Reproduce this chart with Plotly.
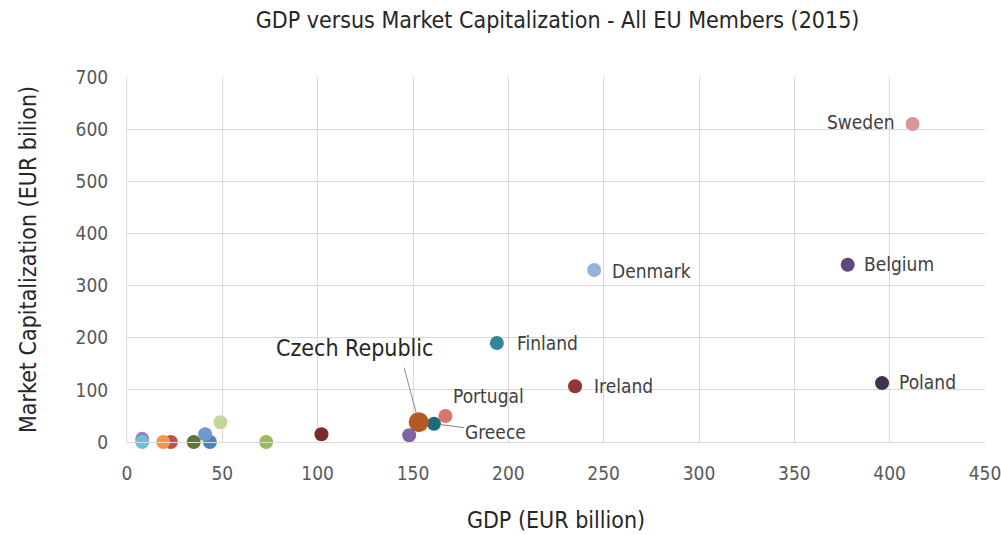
import plotly.graph_objects as go

countries = ["Sweden", "Denmark", "Belgium", "Poland", "Finland", "Ireland",
             "Portugal", "Greece", "Czech Republic", "Hungary", "Slovakia",
             "Luxembourg", "Croatia", "Bulgaria", "Lithuania", "Slovenia",
             "Latvia", "Estonia", "Cyprus", "Malta"]
gdp = [412, 245, 378, 396, 194, 235, 167, 161, 153, 148, 102, 73, 49, 43.5, 41, 35,
       23, 19, 8, 8]
mcap = [610, 330, 340, 113, 190, 107, 50, 35, 38, 13, 15, 0, 38, 0, 15, 0,
        0, 0, 6, 0]
labeled = ["Sweden", "Denmark", "Belgium", "Poland", "Finland", "Ireland",
           "Portugal", "Greece", "Czech Republic"]

colors = ["#DA9694", "#95B3D7", "#60497A", "#403151", "#31859C", "#963634",
          "#DA7471", "#1D6A7C", "#B65A24", "#8064A2", "#772C2A", "#9BBB59",
          "#C4D79B", "#4F81BD", "#6F99CF", "#5F7530", "#C0504D", "#F79646",
          "#9A7FBF", "#6BC0D8"]
sizes = [14 if c != "Czech Republic" else 20 for c in countries]

fig = go.Figure()
fig.add_trace(go.Scatter(
    x=gdp, y=mcap, mode="markers", text=countries,
    marker=dict(color=colors, size=sizes, opacity=1, line=dict(width=0)),
    hoverinfo="text+x+y", showlegend=False, cliponaxis=False))

FONT = "DejaVu Sans Condensed, Liberation Sans Narrow, Roboto, sans-serif"
label_style = {
    "Sweden": dict(xanchor="right", xshift=-16, yshift=2),
    "Denmark": dict(xanchor="left", xshift=16, yshift=-1),
    "Belgium": dict(xanchor="left", xshift=14, yshift=1),
    "Poland": dict(xanchor="left", xshift=15, yshift=1),
    "Finland": dict(xanchor="left", xshift=18, yshift=0),
    "Ireland": dict(xanchor="left", xshift=17, yshift=0),
    "Portugal": dict(xanchor="center", xshift=43, yshift=20),
}
for c, x, y in zip(countries, gdp, mcap):
    if c not in labeled:
        continue
    if c in label_style:
        s = label_style[c]
        fig.add_annotation(x=x, y=y, text=c, showarrow=False,
                           xanchor=s["xanchor"], yanchor="middle",
                           xshift=s["xshift"], yshift=s["yshift"],
                           font=dict(family=FONT, size=19, color="#404040"))
    elif c == "Greece":
        fig.add_annotation(x=x, y=y, text=c, showarrow=True, arrowhead=0,
                           arrowwidth=1, arrowcolor="#808080", ax=62, ay=8,
                           standoff=6, xanchor="center",
                           font=dict(family=FONT, size=19, color="#404040"))
    elif c == "Czech Republic":
        fig.add_annotation(x=x, y=y, text=c, showarrow=False,
                           xshift=-64, yshift=74,
                           font=dict(family=FONT, size=23, color="#262626"))
        fig.add_annotation(x=x, y=y, text="", showarrow=True, arrowhead=0,
                           arrowwidth=1, arrowcolor="#8C8C8C", ax=-15, ay=-56,
                           standoff=9)

fig.update_layout(
    width=1001, height=535,
    margin=dict(l=127, r=16, t=77, b=93, autoexpand=False),
    paper_bgcolor="white", plot_bgcolor="white",
    title=dict(text="GDP versus Market Capitalization - All EU Members (2015)",
               x=0.557, xanchor="center", y=0.963, yanchor="middle",
               font=dict(family=FONT, size=23, color="#262626")),
    font=dict(family=FONT, size=19, color="#595959"),
    xaxis=dict(range=[0, 450], dtick=50, showgrid=True, gridcolor="#D9D9D9",
               gridwidth=1, zeroline=False, showline=True, linecolor="#D9D9D9",
               mirror=False, ticks="", ticklabelstandoff=14, automargin=False,
               ticklabeloverflow="allow",
               title=dict(text="GDP (EUR billion)", standoff=29,
                          font=dict(family=FONT, size=23, color="#262626")),
               tickfont=dict(family=FONT, size=19, color="#595959")),
    yaxis=dict(range=[0, 700], dtick=100, showgrid=True, gridcolor="#D9D9D9",
               gridwidth=1, zeroline=True, zerolinecolor="#C9C6C6",
               zerolinewidth=3, showline=True, linecolor="#D9D9D9",
               ticks="", ticklabelstandoff=14, automargin=False,
               ticklabeloverflow="allow",
               title=dict(text="Market Capitalization (EUR bilion)", standoff=32,
                          font=dict(family=FONT, size=23, color="#262626")),
               tickfont=dict(family=FONT, size=19, color="#595959")),
)
fig.write_html("out.html",
               config={"displayModeBar": False},
               post_script="document.body.style.margin='0';"
                           "document.body.style.overflow='hidden';")
